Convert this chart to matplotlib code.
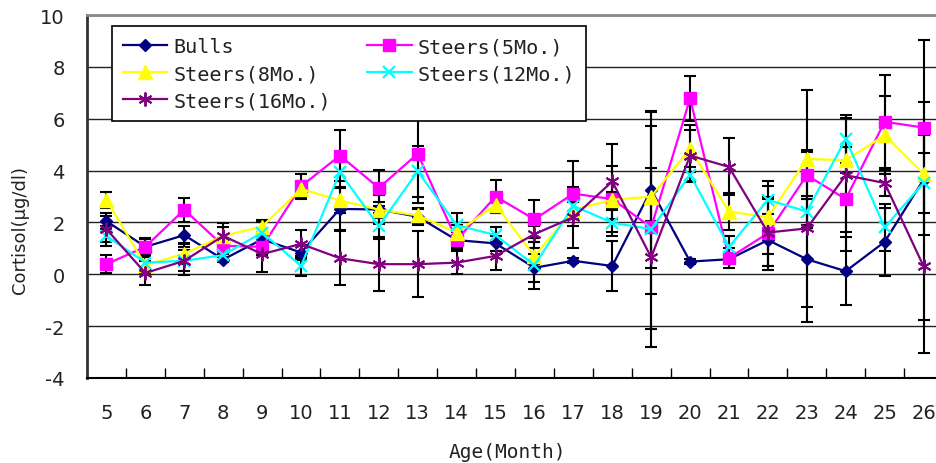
import numpy as np
import matplotlib
matplotlib.use("Agg")
import matplotlib.pyplot as plt
from matplotlib.ticker import FixedLocator

plot_fname = "out.png"
plt.rcParams["axes.unicode_minus"] = False

# Serum cortisol by age, mean +/- error
months = [5, 6, 7, 8, 9, 10, 11, 12, 13, 14, 15, 16, 17, 18, 19, 20, 21, 22, 23, 24, 25, 26]

bulls = [2.05, 1.06, 1.51, 0.57, 1.35, 0.84, 2.52, 2.50, 2.22, 1.32, 1.19,
         0.25, 0.52, 0.32, 3.26, 0.49, 0.58, 1.32, 0.58, 0.12, 1.25, 3.65]
bulls_err = [0.30, 0.30, 0.35, 0.10, 0.30, 0.30, 0.80, 0.55, 0.30, 0.30, 0.30,
             0.55, 0.10, 0.97, 3.00, 0.10, 0.10, 1.00, 2.43, 1.32, 1.30, 5.40]

steers5 = [0.39, 1.06, 2.49, 1.10, 1.06, 3.39, 4.58, 3.33, 4.65, 1.32, 3.00,
           2.12, 3.11, 2.90, 1.81, 6.78, 0.63, 1.58, 3.82, 2.90, 5.88, 5.66]
steers5_err = [0.35, 0.33, 0.47, 0.30, 0.30, 0.47, 0.97, 0.70, 1.90, 0.35, 0.65,
               0.73, 1.25, 1.27, 3.92, 0.86, 0.40, 1.40, 0.90, 2.00, 1.80, 1.00]

steers8 = [2.87, 0.35, 0.80, 1.48, 1.84, 3.29, 2.85, 2.49, 2.27, 1.61, 2.68,
           0.70, 2.49, 2.87, 3.00, 4.84, 2.42, 2.20, 4.45, 4.40, 5.36, 3.88]
steers8_err = [0.31, 0.30, 0.40, 0.50, 0.26, 0.30, 0.50, 0.30, 0.30, 0.30, 0.30,
               0.30, 0.30, 0.30, 1.10, 0.90, 0.70, 1.40, 2.65, 0.50, 1.50, 1.50]

steers12 = [1.48, 0.45, 0.52, 0.74, 1.61, 0.32, 3.93, 1.86, 3.97, 1.90, 1.51,
            0.35, 2.64, 1.99, 1.74, 3.84, 1.06, 2.87, 2.42, 5.22, 1.81, 3.52]
steers12_err = [0.40, 0.30, 0.40, 0.25, 0.42, 0.40, 0.60, 0.50, 0.97, 0.46, 0.30,
                0.90, 0.40, 0.50, 4.56, 0.30, 0.40, 0.55, 0.50, 0.92, 0.90, 2.00]

steers16 = [1.74, 0.05, 0.52, 1.48, 0.78, 1.17, 0.62, 0.39, 0.39, 0.45, 0.71,
            1.55, 2.20, 3.58, 0.65, 4.58, 4.14, 1.61, 1.77, 3.82, 3.52, 0.31]
steers16_err = [0.50, 0.48, 0.55, 0.35, 0.68, 0.55, 1.05, 1.04, 1.27, 0.45, 0.55,
                0.30, 1.18, 1.46, 1.40, 1.00, 1.10, 1.30, 3.04, 2.20, 0.50, 3.33]

series = [
    ("Bulls", bulls, bulls_err, "#000080", dict(marker="D", markersize=6.5)),
    ("Steers(5Mo.)", steers5, steers5_err, "#FF00FF", dict(marker="s", markersize=8.5)),
    ("Steers(8Mo.)", steers8, steers8_err, "#FFFF00", dict(marker="^", markersize=9.5)),
    ("Steers(12Mo.)", steers12, steers12_err, "#00FFFF", dict(marker="x", markersize=8, markeredgewidth=1.6)),
    ("Steers(16Mo.)", steers16, steers16_err, "#800080", dict(marker=(6, 2, 0), markersize=10, markeredgewidth=1.4)),
]

mono = "DejaVu Sans Mono"
txt_color = "#222222"

fig = plt.figure(figsize=(9.37, 4.64), dpi=100)
ax = fig.add_axes([87 / 937, 85 / 464, 856 / 937, 363 / 464])

xpos = np.arange(len(months))
lines = {}
for name, vals, err, color, mk in series:
    ax.errorbar(xpos, vals, yerr=err, fmt="none", ecolor="black",
                elinewidth=1.5, capsize=4.5, capthick=1.5, zorder=3)
for name, vals, err, color, mk in series:
    ln, = ax.plot(xpos, vals, color=color, linewidth=1.6, zorder=4,
                  markerfacecolor=color, markeredgecolor=color, label=name, **mk)
    lines[name] = ln

ax.set_xlim(-0.5, len(months) - 0.5)
ax.set_ylim(-4, 10)
ax.set_yticks(np.arange(-4, 11, 2))
ax.yaxis.grid(True, color="#222222", linewidth=1.0)
ax.set_axisbelow(True)

# boundary ticks point inward, labels sit on the category centres
ax.xaxis.set_major_locator(FixedLocator(np.arange(0.5, len(months) - 0.5, 1)))
ax.xaxis.set_minor_locator(FixedLocator(xpos))
ax.set_xticklabels([])
ax.set_xticklabels([str(m) for m in months], minor=True)
ax.tick_params(axis="x", which="major", direction="in", length=7, width=1, color="black")
ax.tick_params(axis="x", which="minor", length=0, pad=18, labelsize=14)
ax.tick_params(axis="y", length=0, pad=16, labelsize=14)
for lbl in ax.get_xticklabels(minor=True) + ax.get_yticklabels():
    lbl.set_color(txt_color)

ax.spines["top"].set_color("#888888")
ax.spines["top"].set_linewidth(2)
ax.spines["left"].set_color("#333333")
ax.spines["left"].set_linewidth(2)
ax.spines["bottom"].set_linewidth(1.5)
ax.spines["right"].set_visible(False)

fig.text(507 / 937, 1 - 453 / 464, "Age(Month)", ha="center", va="center",
         family=mono, fontsize=14, color=txt_color)
fig.text(20 / 937, 1 - 230 / 464, "Cortisol(\u03bcg/dl)", rotation=90, ha="center",
         va="center", fontsize=13, color=txt_color)

order = ["Bulls", "Steers(8Mo.)", "Steers(16Mo.)", "Steers(5Mo.)", "Steers(12Mo.)"]
leg = fig.legend([lines[n] for n in order], order, ncol=2, loc="upper left",
                 bbox_to_anchor=(112 / 937, 1 - 27 / 464), borderaxespad=0,
                 prop={"family": mono, "size": 14.5}, frameon=True, fancybox=False,
                 framealpha=1.0, edgecolor="black", handlelength=2.2, handletextpad=0.3,
                 columnspacing=1.8, labelspacing=0.4, borderpad=0.55)
leg.get_frame().set_linewidth(1.2)
for t in leg.get_texts():
    t.set_color(txt_color)

fig.savefig(plot_fname, dpi=100)
